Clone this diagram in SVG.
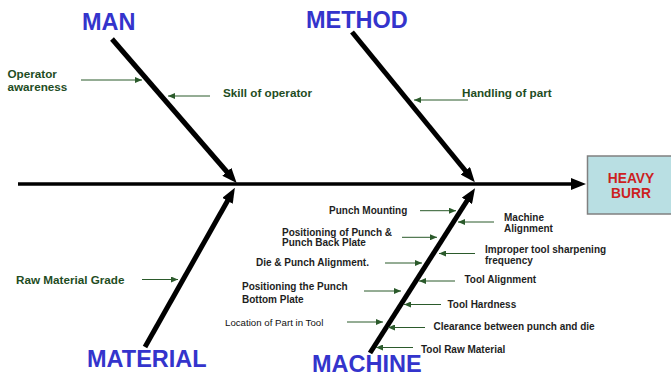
<svg xmlns="http://www.w3.org/2000/svg" width="671" height="374" viewBox="0 0 671 374">
  <defs>
    <!-- heavy arrowhead for spine and bones (base at the line end) -->
    <marker id="bigHead" markerUnits="userSpaceOnUse" markerWidth="15" markerHeight="12" viewBox="0 0 15 12" refX="1" refY="6" orient="auto">
      <path d="M0,0 L15,6 L0,12 z" fill="#000"/>
    </marker>
    <!-- small arrowhead for cause pointers -->
    <marker id="smallHead" markerUnits="userSpaceOnUse" markerWidth="7" markerHeight="6" viewBox="0 0 7 6" refX="7" refY="3" orient="auto">
      <path d="M0,0 L7,3 L0,6 z" fill="#2b5a2b"/>
    </marker>
    <style>
      .cat { font-family: "Liberation Sans", Arial, sans-serif; font-weight: bold; font-size: 23.5px; fill: #3434cc; }
      .cause { font-family: "Liberation Sans", Arial, sans-serif; font-weight: bold; font-size: 11.7px; fill: #1f4d1f; }
      .mc { font-family: "Liberation Sans", Arial, sans-serif; font-weight: bold; font-size: 10px; fill: #1e1e1e; }
      .mcl { font-family: "Liberation Sans", Arial, sans-serif; font-weight: normal; font-size: 9.7px; fill: #111; }
      .effect { font-family: "Liberation Sans", Arial, sans-serif; font-weight: bold; font-size: 13.8px; fill: #cc1f1f; text-anchor: middle; }
      .bone { stroke: #000; stroke-width: 5; fill: none; marker-end: url(#bigHead); }
      .spine { stroke: #000; stroke-width: 3.5; fill: none; marker-end: url(#bigHead); }
      .ptr { stroke: #2b5a2b; stroke-width: 1; fill: none; marker-end: url(#smallHead); }
    </style>
  </defs>

  <rect width="671" height="374" fill="#fff"/>

  <!-- spine and bones -->
  <g id="connectors">
    <line class="spine" x1="18" y1="184" x2="572" y2="184"/>
    <line class="bone" x1="112" y1="39" x2="227.5" y2="172.5"/>
    <line class="bone" x1="352" y1="32" x2="466" y2="171.5"/>
    <line class="bone" x1="145" y1="347" x2="228" y2="200"/>
    <line class="bone" x1="370" y1="353" x2="467.5" y2="200"/>

    <!-- cause pointers -->
    <line class="ptr" x1="81" y1="80" x2="142" y2="80"/>
    <line class="ptr" x1="210" y1="96" x2="168" y2="96"/>
    <line class="ptr" x1="468" y1="100" x2="414" y2="100"/>
    <line class="ptr" x1="142" y1="279.5" x2="178" y2="279.5"/>
    <line class="ptr" x1="420" y1="210.7" x2="456" y2="210.7"/>
    <line class="ptr" x1="402" y1="237.3" x2="437" y2="237.3"/>
    <line class="ptr" x1="385" y1="263" x2="422" y2="263"/>
    <line class="ptr" x1="364" y1="291" x2="401" y2="291"/>
    <line class="ptr" x1="347" y1="322" x2="383" y2="322"/>
    <line class="ptr" x1="494" y1="222" x2="458" y2="222"/>
    <line class="ptr" x1="475" y1="253.5" x2="439" y2="253.5"/>
    <line class="ptr" x1="455" y1="281" x2="419" y2="281"/>
    <line class="ptr" x1="441" y1="304.5" x2="404" y2="304.5"/>
    <line class="ptr" x1="425" y1="327.5" x2="388" y2="327.5"/>
    <line class="ptr" x1="413" y1="347.5" x2="376" y2="347.5"/>
  </g>

  <!-- effect box -->
  <g id="effect">
    <rect x="587.5" y="156" width="90" height="58" fill="#b9dfe3" stroke="#808080" stroke-width="1.5"/>
    <text class="effect" x="631" y="182.5">HEAVY</text>
    <text class="effect" x="631" y="198.3">BURR</text>
  </g>

  <g id="man">
    <text class="cat" x="82" y="30">MAN</text>
    <text class="cause" x="7.5" y="78.3">Operator</text>
    <text class="cause" x="7.5" y="90.5">awareness</text>
    <text class="cause" x="223" y="96.5">Skill of operator</text>
  </g>

  <g id="method">
    <text class="cat" x="306" y="27.5">METHOD</text>
    <text class="cause" x="462" y="96.7">Handling of part</text>
  </g>

  <g id="material">
    <text class="cat" x="87" y="366.5">MATERIAL</text>
    <text class="cause" x="16" y="284.3">Raw Material Grade</text>
  </g>

  <g id="machine">
    <text class="cat" x="312" y="371.5">MACHINE</text>
    <text class="mc" x="329" y="214">Punch Mounting</text>
    <text class="mc" x="282" y="235.5">Positioning of Punch &amp;</text>
    <text class="mc" x="282" y="246">Punch Back Plate</text>
    <text class="mc" x="256" y="266">Die &amp; Punch Alignment.</text>
    <text class="mc" x="242" y="290">Positioning the Punch</text>
    <text class="mc" x="242" y="302.7">Bottom Plate</text>
    <text class="mcl" x="225" y="326">Location of Part in Tool</text>
    <text class="mc" x="504" y="221.3">Machine</text>
    <text class="mc" x="504" y="232.3">Alignment</text>
    <text class="mc" x="485" y="253">Improper tool sharpening</text>
    <text class="mc" x="485" y="263.5">frequency</text>
    <text class="mc" x="464.5" y="283.3">Tool Alignment</text>
    <text class="mc" x="447.5" y="308.3">Tool Hardness</text>
    <text class="mc" x="433.5" y="330.3">Clearance between punch and die</text>
    <text class="mc" x="421" y="353">Tool Raw Material</text>
  </g>
</svg>
